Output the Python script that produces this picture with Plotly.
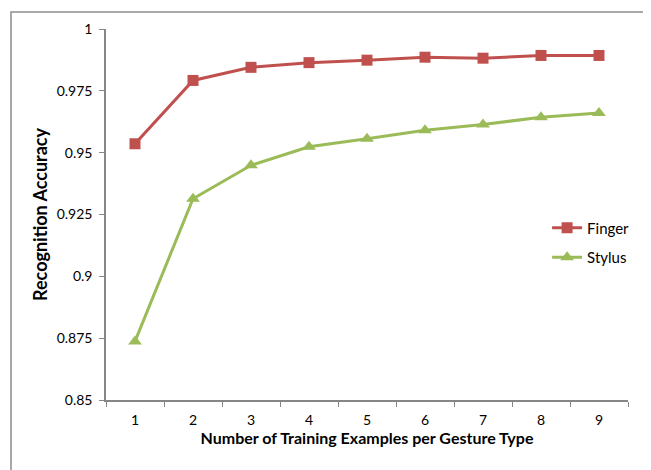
import plotly.graph_objects as go

categories = ["1", "2", "3", "4", "5", "6", "7", "8", "9"]
finger = [0.9536, 0.9792, 0.9845, 0.9864, 0.9874, 0.9886, 0.9882, 0.9893, 0.9893]
stylus = [0.8737, 0.9314, 0.9449, 0.9524, 0.9556, 0.9591, 0.9614, 0.9643, 0.9660]
ytick_vals = [0.85, 0.875, 0.9, 0.925, 0.95, 0.975, 1.0]
ytick_text = ["0.85", "0.875", "0.9", "0.925", "0.95", "0.975", "1"]

RED = "#C0504D"
GREEN = "#9BBB59"
AXIS = "#868686"
FONT = "Lato"

fig = go.Figure()
fig.add_trace(go.Scatter(
    x=categories, y=finger, name="Finger", mode="lines+markers",
    line=dict(color=RED, width=3),
    marker=dict(symbol="square", size=11, color=RED),
    legendgroup="a",
))
fig.add_trace(go.Scatter(
    x=categories, y=stylus, name="Stylus", mode="lines+markers",
    line=dict(color=GREEN, width=3),
    marker=dict(symbol="triangle-up", size=12, color=GREEN),
    legendgroup="b",
))

fig.update_layout(
    width=651, height=470,
    margin=dict(l=98, r=31, t=18, b=78),
    paper_bgcolor="white", plot_bgcolor="white",
    font=dict(family=FONT, size=14, color="#000000"),
    showlegend=True,
    legend=dict(x=0.845, y=0.508, xanchor="left", yanchor="top",
                font=dict(size=15, color="#000000"),
                tracegroupgap=7, bgcolor="rgba(0,0,0,0)"),
    xaxis=dict(
        type="category", range=[-0.5, 8.5],
        showline=True, linecolor=AXIS, linewidth=1.5,
        ticks="outside", ticklen=5, tickcolor=AXIS, tickson="boundaries",
        ticklabelstandoff=6,
        showgrid=False, zeroline=False,
        tickfont=dict(size=14),
        title=dict(text="<b>Number of Training Examples per Gesture Type</b>",
                   font=dict(size=16), standoff=6),
    ),
    yaxis=dict(
        range=[0.85, 1.0],
        tickvals=ytick_vals, ticktext=ytick_text,
        showline=True, linecolor=AXIS, linewidth=1.5,
        ticks="outside", ticklen=5, tickcolor=AXIS,
        ticklabelstandoff=4,
        showgrid=False, zeroline=False,
        tickfont=dict(size=14),
        title=dict(text="<b>Recognition Accuracy</b>", font=dict(size=18), standoff=4),
    ),
    shapes=[dict(
        type="rect", xref="paper", yref="paper",
        x0=-0.182, x1=1.038, y0=-0.25, y1=1.0455,
        line=dict(color="#8C8C8C", width=1.5), fillcolor="rgba(0,0,0,0)",
        layer="below",
    )],
)

fig.write_html("out.html")
